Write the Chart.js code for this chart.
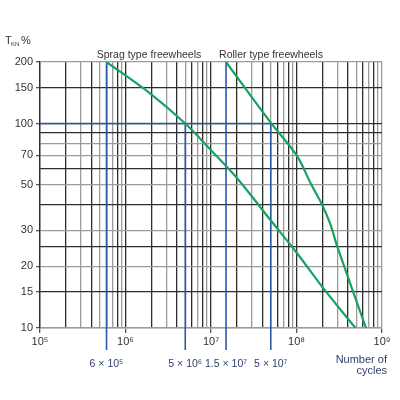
<!DOCTYPE html>
<html>
<head>
<meta charset="utf-8">
<style>
  html, body { margin: 0; padding: 0; background: #fff; }
  #wrap { width: 400px; height: 400px; }
</style>
<script src="https://cdn.jsdelivr.net/npm/chart.js@4.4.0/dist/chart.umd.min.js"></script>
</head>
<body>
<div id="wrap"><canvas id="chart" width="400" height="400"></canvas></div>
<script>
// Curve data (cycles, torque %)
const spragCycles = [6e5, 2e6, 5e6, 1e7, 2.1e7, 4.8e7, 1e8, 2e8, 4.9e8];
const spragTorque = [200, 139, 100, 74, 53, 34.3, 23.4, 15.9, 10];
const rollerCycles = [1.5e7, 5e7, 1e8, 1.5e8, 2e8, 2.5e8, 3e8, 6.5e8];
const rollerTorque = [200, 101, 70, 50, 40, 32, 25, 10];

// Marker lines (blue) and their labels
const markerCycles = [6e5, 5e6, 1.5e7, 5e7];
const markerTop = [200, 100, 200, 100];
const markerLabels = ['6 × 10⁵', '5 × 10⁶', '1.5 × 10⁷', '5 × 10⁷'];
const refTorque = 100;

// Axis ticks
const xDecades = [1e5, 1e6, 1e7, 1e8, 1e9];
const xTickLabels = ['10⁵', '10⁶', '10⁷', '10⁸', '10⁹'];
const yGridValues = [10, 15, 20, 25, 30, 40, 50, 60, 70, 80, 90, 100, 150, 200];
const yTickLabels = ['10', '15', '20', '30', '50', '70', '100', '150', '200'];

const DARK = '#2e2e2e';
const GREY = '#9c9c9c';
const BLUE = '#2a58a8';
const GREEN = '#17a263';
const TEXT = '#333333';
const NAVY = '#2f3f6e';
const FONT = '"Liberation Sans", Arial, sans-serif';

// grid lines of every x decade: 1..9 x 10^n
const xGridValues = [];
for (let d = 5; d < 9; d++) {
    for (let m = 1; m <= 9; m++) xGridValues.push(m * Math.pow(10, d));
}
xGridValues.push(1e9);

function mantissa(v) {
    return Math.round(v / Math.pow(10, Math.floor(Math.log10(v) + 1e-9)));
}
const xDarkMantissa = [1, 2, 4, 6, 8];
const yDarkValues = [150, 100, 90, 60, 40, 25, 15];

function toPoints(xs, ys) {
    return xs.map((x, i) => ({ x: x, y: ys[i] }));
}

const overlayPlugin = {
    id: 'overlay',
    beforeDatasetsDraw(chart) {
        const { ctx, chartArea, scales } = chart;
        const x = scales.x, y = scales.y;
        ctx.save();
        ctx.strokeStyle = BLUE;
        ctx.lineWidth = 1.6;
        // horizontal reference at 100 %
        ctx.beginPath();
        ctx.moveTo(chartArea.left, y.getPixelForValue(refTorque));
        ctx.lineTo(x.getPixelForValue(markerCycles[markerCycles.length - 1]), y.getPixelForValue(refTorque));
        ctx.stroke();
        // vertical markers, running below the axis to the labels
        markerCycles.forEach((c, i) => {
            const px = x.getPixelForValue(c);
            ctx.beginPath();
            ctx.moveTo(px, y.getPixelForValue(markerTop[i]));
            ctx.lineTo(px, chartArea.bottom + 22);
            ctx.stroke();
        });
        ctx.restore();
    },
    afterDraw(chart) {
        const { ctx, chartArea, scales } = chart;
        const x = scales.x;
        ctx.save();
        ctx.textBaseline = 'middle';
        // marker labels
        ctx.font = '10.5px ' + FONT;
        ctx.fillStyle = NAVY;
        ctx.textAlign = 'center';
        markerCycles.forEach((c, i) => {
            ctx.fillText(markerLabels[i], x.getPixelForValue(c), chartArea.bottom + 36);
        });
        ctx.font = '11px ' + FONT;
        ctx.textAlign = 'right';
        ctx.fillText('Number of', 387, chartArea.bottom + 32);
        ctx.fillText('cycles', 387, chartArea.bottom + 43);
        // curve titles
        ctx.font = '10.5px ' + FONT;
        ctx.fillStyle = TEXT;
        ctx.textAlign = 'center';
        ctx.fillText('Sprag type freewheels', 149, 55);
        ctx.fillText('Roller type freewheels', 271, 55);
        // y axis title: T_KN %
        ctx.font = '11px ' + FONT;
        ctx.textAlign = 'left';
        ctx.fillText('T', 5, 41);
        ctx.font = '6px ' + FONT;
        ctx.fillText('KN', 11, 44);
        ctx.font = '11px ' + FONT;
        ctx.fillText('%', 21, 41);
        ctx.restore();
    }
};

const chart = new Chart(document.getElementById('chart'), {
    type: 'scatter',
    data: {
        datasets: [
            {
                label: 'Sprag type freewheels',
                data: toPoints(spragCycles, spragTorque),
                showLine: true,
                borderColor: GREEN,
                borderWidth: 2.2,
                pointRadius: 0,
                tension: 0.35
            },
            {
                label: 'Roller type freewheels',
                data: toPoints(rollerCycles, rollerTorque),
                showLine: true,
                borderColor: GREEN,
                borderWidth: 2.2,
                pointRadius: 0,
                tension: 0.35
            }
        ]
    },
    options: {
        responsive: false,
        animation: false,
        layout: { padding: { top: 62, right: 18, left: 0, bottom: 0 } },
        plugins: {
            legend: { display: false },
            tooltip: { enabled: false }
        },
        scales: {
            x: {
                type: 'logarithmic',
                min: 1e5,
                max: 1e9,
                afterBuildTicks: (s) => { s.ticks = xGridValues.map(v => ({ value: v })); },
                afterFit: (s) => { s.height = 72; },
                ticks: {
                    autoSkip: false,
                    maxRotation: 0,
                    padding: 2,
                    color: TEXT,
                    font: { family: FONT, size: 11 },
                    callback: (v) => {
                        const i = xDecades.indexOf(v);
                        return i >= 0 ? xTickLabels[i] : '';
                    }
                },
                grid: {
                    lineWidth: 1.3,
                    tickLength: 5,
                    color: (c) => c.tick.value === 1e9 ? GREY
                        : (xDarkMantissa.includes(mantissa(c.tick.value)) ? DARK : GREY),
                    tickColor: (c) => xDecades.includes(c.tick.value) ? '#555' : 'rgba(0,0,0,0)'
                },
                border: { color: GREY, width: 1.5 }
            },
            y: {
                type: 'logarithmic',
                min: 10,
                max: 200,
                afterBuildTicks: (s) => { s.ticks = yGridValues.map(v => ({ value: v })); },
                afterFit: (s) => { s.width = 40; },
                ticks: {
                    autoSkip: false,
                    padding: 3,
                    color: TEXT,
                    font: { family: FONT, size: 11 },
                    callback: (v) => yTickLabels.includes(String(v)) ? String(v) : ''
                },
                grid: {
                    lineWidth: 1.3,
                    tickLength: 4,
                    color: (c) => yDarkValues.includes(c.tick.value) ? DARK : GREY,
                    tickColor: (c) => yTickLabels.includes(String(c.tick.value)) ? '#555' : 'rgba(0,0,0,0)'
                },
                border: { color: DARK, width: 1.3 }
            }
        }
    },
    plugins: [overlayPlugin]
});
</script>
</body>
</html>
